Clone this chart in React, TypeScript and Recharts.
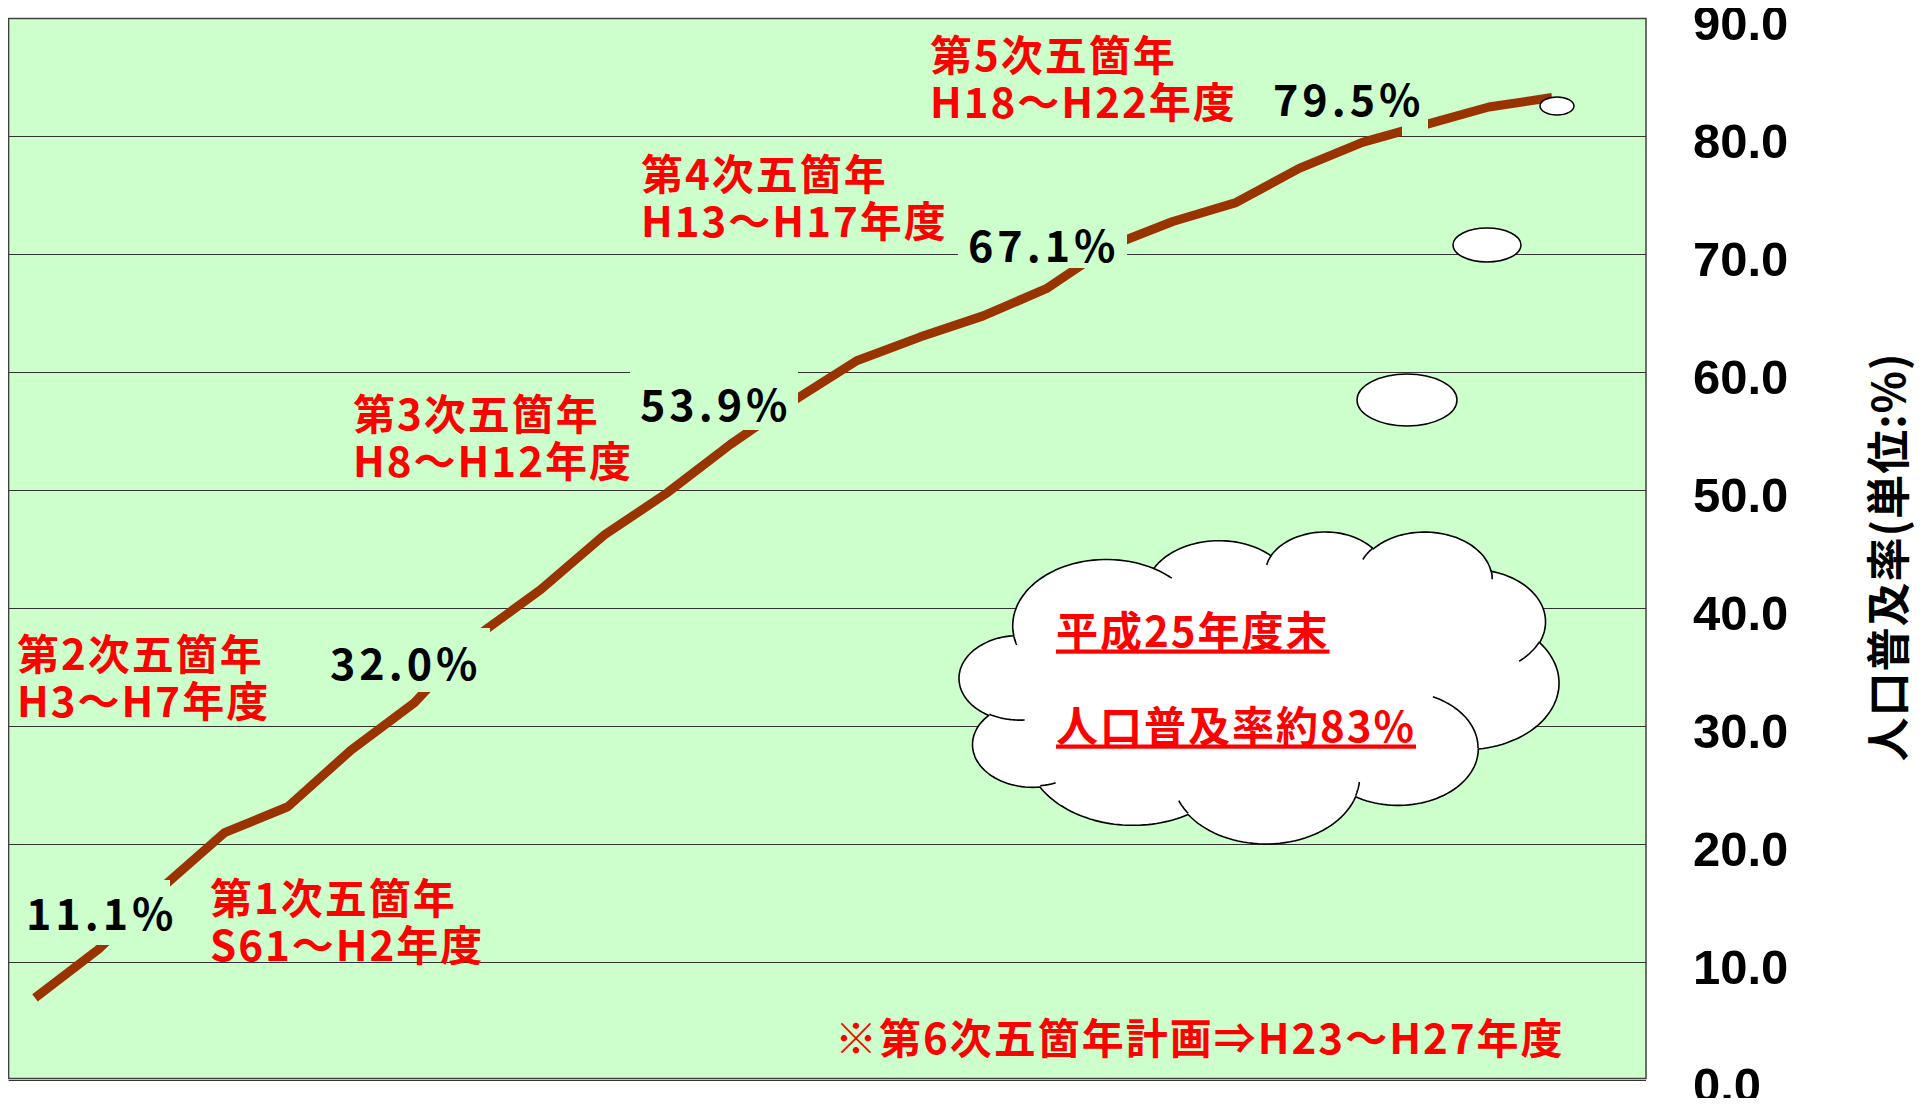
import React from "react";
import { LineChart, Line, XAxis, YAxis, CartesianGrid } from "recharts";

// 下水道 人口普及率の推移（年度末）
const years = [
  "H1", "H2", "H3", "H4", "H5", "H6", "H7", "H8", "H9", "H10", "H11", "H12", "H13",
  "H14", "H15", "H16", "H17", "H18", "H19", "H20", "H21", "H22", "H23", "H24", "H25",
];
const coverage = [
  7.0, 11.1, 16.3, 21.0, 23.2, 28.0, 32.0, 37.7, 41.6, 46.2, 49.8, 53.9, 57.6,
  61.0, 63.0, 64.8, 67.1, 70.7, 72.8, 74.4, 77.3, 79.5, 81.0, 82.5, 83.3,
];
const yTicks = [0, 10, 20, 30, 40, 50, 60, 70, 80, 90];

const planTitles = ["第1次五箇年", "第2次五箇年", "第3次五箇年", "第4次五箇年", "第5次五箇年"];
const planPeriods = ["S61〜H2年度", "H3〜H7年度", "H8〜H12年度", "H13〜H17年度", "H18〜H22年度"];
const milestoneLabels = ["11.1%", "32.0%", "53.9%", "67.1%", "79.5%"];
const noteText = "※第6次五箇年計画⇒H23〜H27年度";
const cloudLines = ["平成25年度末", "人口普及率約83%"];
const axisTitle = "人口普及率(単位:%)";

const data = years.map((year, i) => ({ year, value: coverage[i] }));

// layout
const W = 1925;
const H = 1106;
const PLOT = { left: 8.6, top: 18.5, right: 1646, bottom: 1080.5 };
const AXIS_W = 150;
const GREEN = "#CCFFCC";
const CJK = "'Noto Sans CJK JP', 'Noto Sans', sans-serif";

const planPos = [[210, 898], [17, 654], [353, 414], [641, 174], [930, 55]];
const milestonePos = [[26, 914], [330, 664], [640, 405], [968, 246], [1273, 100]];
// text boxes with plot-coloured fill, they hide the line / grid behind the labels
const maskRects = [
  [20, 880, 150, 65],
  [322, 628, 168, 64],
  [630, 366, 168, 64],
  [958, 224, 169, 44],
  [1265, 78, 137, 44],
  [1402, 78, 26, 58],
];
const tailEllipses = [[1557, 106, 17, 9], [1487, 245, 34, 17], [1407, 400, 50, 26]];
const CLOUD_BOX = [959, 532, 1559, 844];

// preset cloud geometry (43200 units), arcTo: wR, hR, stAng, swAng
const CLOUD_START = [3900, 14370];
const CLOUD_ARCS = [
  [6753, 9190, -11429249, 7426832],
  [5333, 7267, -8646143, 5396714],
  [4365, 5945, -8748475, 5983381],
  [4857, 6595, -7859164, 7034504],
  [5333, 7273, -4722533, 6541615],
  [6775, 9220, -2776035, 7816140],
  [5785, 7867, 37501, 6842000],
  [6752, 9215, 1347096, 6910353],
  [7720, 10543, 3974558, 4542661],
  [4360, 5918, -16496525, 8804134],
  [4345, 5945, -14809710, 9151170],
];
const CLOUD_INNER = [
  [4693, 26177, 4345, 5945, 5204520, 1585770],
  [6928, 34899, 4360, 5918, 4416628, 686848],
  [16478, 39090, 6752, 9215, 8257449, 844866],
  [28827, 34751, 6752, 9215, 387196, 959901],
  [34129, 22954, 5785, 7867, -4217541, 4255042],
  [41798, 15354, 5333, 7273, 1819082, 1665090],
  [38324, 5426, 4857, 6595, -824660, 891534],
  [29078, 3952, 4857, 6595, -8950887, 1091722],
  [22141, 4720, 4365, 5945, -9809656, 1061181],
  [14000, 5192, 6753, 9190, -4002417, 739161],
  [4127, 15789, 6753, 9190, 9459261, 711490],
];

function sampleArc(x0: number, y0: number, wR: number, hR: number, st: number, sw: number) {
  const rad = (a: number) => ((a / 60000) * Math.PI) / 180;
  const par = (a: number) => Math.atan2(wR * Math.sin(a), hR * Math.cos(a));
  const t0 = par(rad(st));
  let t1 = par(rad(st + sw));
  if (sw > 0) while (t1 <= t0) t1 += Math.PI * 2;
  else while (t1 >= t0) t1 -= Math.PI * 2;
  const cx = x0 - wR * Math.cos(t0);
  const cy = y0 - hR * Math.sin(t0);
  const pts: number[][] = [];
  for (let k = 1; k <= 40; k++) {
    const t = t0 + ((t1 - t0) * k) / 40;
    pts.push([cx + wR * Math.cos(t), cy + hR * Math.sin(t)]);
  }
  return pts;
}

function buildCloud() {
  const outline: number[][] = [CLOUD_START];
  CLOUD_ARCS.forEach(([wR, hR, st, sw]) => {
    const [x0, y0] = outline[outline.length - 1];
    outline.push(...sampleArc(x0, y0, wR, hR, st, sw));
  });
  const xs = outline.map((p) => p[0]);
  const ys = outline.map((p) => p[1]);
  const minX = Math.min(...xs), maxX = Math.max(...xs);
  const minY = Math.min(...ys), maxY = Math.max(...ys);
  const [bx0, by0, bx1, by1] = CLOUD_BOX;
  const tf = (p: number[]) =>
    `${(bx0 + ((p[0] - minX) / (maxX - minX)) * (bx1 - bx0)).toFixed(1)},${(
      by0 + ((p[1] - minY) / (maxY - minY)) * (by1 - by0)
    ).toFixed(1)}`;
  const outer = "M" + outline.map(tf).join(" L") + " Z";
  const inner = CLOUD_INNER.map(([x0, y0, wR, hR, st, sw]) => {
    const pts = [[x0, y0], ...sampleArc(x0, y0, wR, hR, st, sw)];
    return "M" + pts.map(tf).join(" L");
  }).join(" ");
  return { outer, inner };
}

const RightTick = (props: any) => {
  const { x, y, payload } = props;
  return (
    <text
      x={x}
      y={y + 4}
      dy="0.355em"
      textAnchor="start"
      fontFamily="'Liberation Sans', Arial, sans-serif"
      fontWeight="bold"
      fontSize={49}
      fill="#000"
    >
      {Number(payload.value).toFixed(1)}
    </text>
  );
};

function Overlay() {
  const cloud = buildCloud();
  const redText = { fontFamily: CJK, fontWeight: 700, fontSize: 42, letterSpacing: 2, fill: "#FF0000" } as const;
  const blackText = { fontFamily: CJK, fontWeight: 700, fontSize: 43, letterSpacing: 4, fill: "#000" } as const;
  return (
    <svg width={W} height={H} style={{ position: "absolute", left: 0, top: 0, pointerEvents: "none" }}>
      {maskRects.map(([x, y, w, h], i) => (
        <rect key={`m${i}`} x={x} y={y} width={w} height={h} fill={GREEN} />
      ))}
      {milestoneLabels.map((t, i) => (
        <text key={`p${i}`} x={milestonePos[i][0]} y={milestonePos[i][1] + 15.5} {...blackText}>
          {t}
        </text>
      ))}
      {planTitles.map((t, i) => (
        <g key={`l${i}`}>
          <text x={planPos[i][0]} y={planPos[i][1] + 15.5} {...redText}>
            {t}
          </text>
          <text x={planPos[i][0]} y={planPos[i][1] + 47 + 15.5} {...redText}>
            {planPeriods[i]}
          </text>
        </g>
      ))}
      <text x={835} y={1038 + 15.5} {...redText}>
        {noteText}
      </text>

      {tailEllipses.map(([cx, cy, rx, ry], i) => (
        <ellipse key={`e${i}`} cx={cx} cy={cy} rx={rx} ry={ry} fill="#fff" stroke="#000" strokeWidth={1.5} />
      ))}
      <path d={cloud.outer} fill="#fff" stroke="#000" strokeWidth={1.6} strokeLinejoin="round" />
      <path d={cloud.inner} fill="none" stroke="#000" strokeWidth={1.6} />
      <text x={1056} y={631 + 15.5} {...redText} style={{ textDecoration: "underline" }}>
        {cloudLines[0]}
      </text>
      <text x={1056} y={726 + 15.5} {...redText} style={{ textDecoration: "underline" }}>
        {cloudLines[1]}
      </text>

      <text
        x={1886}
        y={557}
        transform="rotate(-90 1886 557)"
        textAnchor="middle"
        dominantBaseline="central"
        fontFamily={CJK}
        fontWeight={700}
        fontSize={44}
        letterSpacing={1}
        fill="#000"
      >
        {axisTitle}
      </text>

      <rect
        x={PLOT.left}
        y={PLOT.top}
        width={PLOT.right - PLOT.left}
        height={PLOT.bottom - PLOT.top - 2}
        fill="none"
        stroke="#404040"
        strokeWidth={1.5}
      />
    </svg>
  );
}

export default function App() {
  return (
    <div style={{ position: "relative", width: W, height: H, margin: -8, background: "#fff", overflow: "hidden" }}>
      <LineChart
        width={W}
        height={H}
        data={data}
        margin={{ top: PLOT.top, bottom: H - PLOT.bottom, left: PLOT.left, right: W - PLOT.right - AXIS_W }}
      >
        <CartesianGrid vertical={false} fill={GREEN} stroke="#333" strokeWidth={1} />
        <XAxis dataKey="year" hide padding={{ left: 26.4, right: 94 }} />
        <YAxis
          orientation="right"
          width={AXIS_W}
          domain={[0, 90]}
          ticks={yTicks}
          interval={0}
          axisLine={false}
          tickLine={false}
          tickSize={0}
          tickMargin={47}
          tick={<RightTick />}
        />
        <Line
          type="linear"
          dataKey="value"
          stroke="#993300"
          strokeWidth={9}
          strokeLinejoin="round"
          dot={false}
          activeDot={false}
          isAnimationActive={false}
        />
      </LineChart>
      <Overlay />
    </div>
  );
}
